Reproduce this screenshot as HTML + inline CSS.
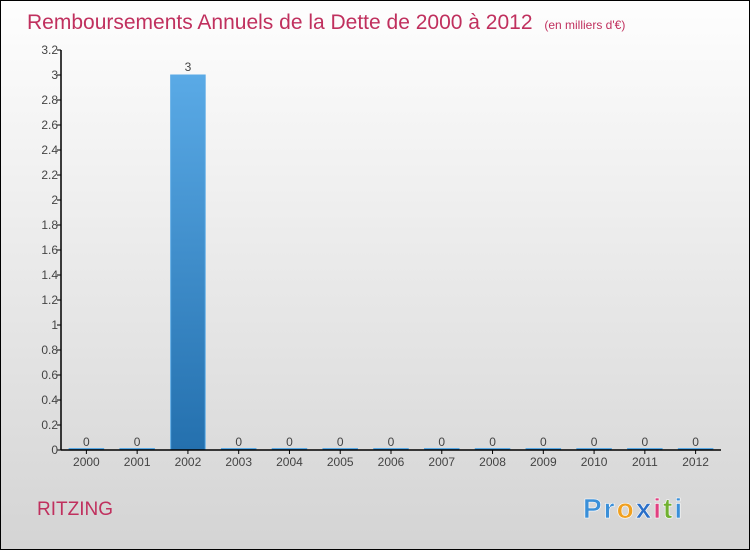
<!DOCTYPE html>
<html><head><meta charset="utf-8"><style>
body{margin:0}
#c{width:748px;height:548px;border:1px solid #000;background:linear-gradient(#fefefe,#d4d4d4);position:relative;overflow:hidden;font-family:"Liberation Sans",sans-serif}
</style></head><body>
<div id="c">
<svg width="748" height="548" id="s" font-family="Liberation Sans, sans-serif">
<defs><linearGradient id="g" x1="0" y1="0" x2="0" y2="1"><stop offset="0" stop-color="#5aaae6"/><stop offset="1" stop-color="#2470ae"/></linearGradient></defs>
<text x="26" y="28" font-size="21" fill="#c0305e">Remboursements Annuels de la Dette de 2000 à 2012 <tspan font-size="12" dx="6">(en milliers d'€)</tspan></text>
<text x="36" y="514" font-size="19" fill="#c0305e">RITZING</text>
<text x="582" y="517" font-size="28" font-weight="bold" letter-spacing="2" stroke="#fff" stroke-width="0.6"><tspan fill="#3a8fd8">Pr</tspan><tspan fill="#f0a020">o</tspan><tspan fill="#2a6fc8">x</tspan><tspan fill="#e04080">i</tspan><tspan fill="#70b030">t</tspan><tspan fill="#3a8fd8">i</tspan></text>
<g id="plot"></g>
</svg>
</div>
<script>
const categories=["2000","2001","2002","2003","2004","2005","2006","2007","2008","2009","2010","2011","2012"];
const values=[0,0,3,0,0,0,0,0,0,0,0,0,0];
const yTicks=[0,0.2,0.4,0.6,0.8,1,1.2,1.4,1.6,1.8,2,2.2,2.4,2.6,2.8,3,3.2];
const NS="http://www.w3.org/2000/svg";
const g=document.getElementById('plot');
const x0=60,x1=720,y0=449,ymax=3.2,ytop=49;
const bw=(x1-x0)/categories.length;
const y=v=>y0-(v/ymax)*(y0-ytop);
const xc=i=>x0+bw*(i+0.5);
function el(t,a){const e=document.createElementNS(NS,t);for(const k in a)e.setAttribute(k,a[k]);g.appendChild(e);return e;}
values.forEach((v,i)=>{
 const w=bw*0.68;
 const h=Math.max(y0-y(v),1.5);
 const r=el('rect',{x:xc(i)-w/2,y:y0-h,width:w,height:h,fill:'url(#g)',stroke:'#5aaae6','stroke-width':1});
 
 
 const t=el('text',{x:xc(i),y:y(v)-4,'font-size':12,fill:'#444','text-anchor':'middle'});
 t.textContent=v;
 
 
 const tk=el('line',{x1:xc(i),x2:xc(i),y1:y0,y2:y0+4,stroke:'#000'});
 
 
 const l=el('text',{x:xc(i),y:y0+16,'font-size':12,fill:'#444','text-anchor':'middle'});
 l.textContent=categories[i];
 
 
});
yTicks.forEach(v=>{
 const tk=el('line',{x1:x0-4,x2:x0,y1:y(v),y2:y(v),stroke:'#000'});
 
 
 const t=el('text',{x:x0-3,y:y(v)+4,'font-size':12,fill:'#444','text-anchor':'end'});
 t.textContent=v;
 
 
});
const ya=el('line',{x1:x0,x2:x0,y1:ytop,y2:y0,stroke:'#000','stroke-width':1.5});


const xa=el('line',{x1:x0,x2:x1,y1:y0,y2:y0,stroke:'#000','stroke-width':1.5});


</script>
</body></html>
